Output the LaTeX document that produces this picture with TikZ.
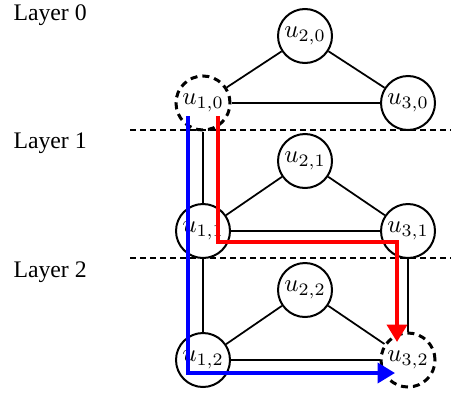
\documentclass[tikz,border=0pt]{standalone}
\usepackage{fontspec}
\newfontfamily\timesfont{Liberation Serif}
\usetikzlibrary{arrows.meta}
\begin{document}
\begin{tikzpicture}[x=0.4pt,y=-0.4pt,
  vert/.style={circle,draw,line width=0.8pt,minimum size=21.6pt,inner sep=0pt},
  dvert/.style={vert,line width=1.2pt,dash pattern=on 2.8pt off 2pt},
  edge/.style={line width=0.7pt},
  sep/.style={line width=0.7pt,dash pattern=on 2.2pt off 1.8pt},
  lay/.style={anchor=base west,inner sep=0pt,font=\timesfont\fontsize{9.5}{11}\selectfont},
  rpath/.style={red,line width=1.6pt,-{Triangle[width=8pt,length=7pt]}},
  bpath/.style={blue,line width=1.6pt,-{Triangle[width=8pt,length=7pt]}}]
\useasboundingbox (0,0) rectangle (451,393);

% layer labels
\node[lay] (l0) at (13,20) {Layer 0};
\node[lay] (l1) at (13,148) {Layer 1};
\node[lay] (l2) at (13,277) {Layer 2};

% separators
\coordinate (s1a) at (130,130);
\coordinate (s1b) at (451,130);
\coordinate (s2a) at (130,258);
\coordinate (s2b) at (451,258);
\draw[sep] (s1a) -- (s1b);
\draw[sep] (s2a) -- (s2b);

% vertices
\node[vert]  (u20) at (305,36)  {$u_{2,0}$};
\node[dvert] (u10) at (203,103) {$u_{1,0}$};
\node[vert]  (u30) at (408,103) {$u_{3,0}$};
\node[vert]  (u21) at (305,161) {$u_{2,1}$};
\node[vert]  (u11) at (203,231) {$u_{1,1}$};
\node[vert]  (u31) at (408,231) {$u_{3,1}$};
\node[vert]  (u22) at (305,290) {$u_{2,2}$};
\node[vert]  (u12) at (203,360) {$u_{1,2}$};
\node[dvert] (u32) at (408,360) {$u_{3,2}$};

% edges
\draw[edge] (u20) -- (u10);
\draw[edge] (u20) -- (u30);
\draw[edge] (u10) -- (u30);
\draw[edge] (u21) -- (u11);
\draw[edge] (u21) -- (u31);
\draw[edge] (u11) -- (u31);
\draw[edge] (u22) -- (u12);
\draw[edge] (u22) -- (u32);
\draw[edge] (u12) -- (u32);
\draw[edge] (u10) -- (u11);
\draw[edge] (u11) -- (u12);
\draw[edge] (u31) -- (u32);

% paths
\draw[rpath] ([shift={(15,13)}]u10.center) |- ([shift={(-11,11)}]u31.center) -- ([shift={(-11,-18)}]u32.center);
\draw[bpath] ([shift={(-15,13)}]u10.center) |- ([shift={(-13,13)}]u32.center);
\end{tikzpicture}
\end{document}
